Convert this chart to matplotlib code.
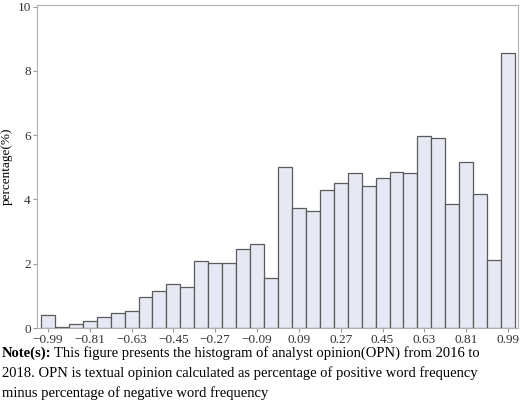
import matplotlib
matplotlib.use("Agg")
import matplotlib.pyplot as plt
import numpy as np

plt.rcParams['font.family'] = ['Liberation Serif', 'DejaVu Serif']

centers = [-0.99 + 0.06*i for i in range(34)]
values = [0.4, 0.02, 0.12, 0.23, 0.33, 0.46, 0.52, 0.95, 1.15, 1.36, 1.28, 2.07, 2.03, 2.02,
          2.45, 2.6, 1.56, 5.0, 3.72, 3.63, 4.3, 4.52, 4.82, 4.41, 4.66, 4.86, 4.82, 5.96,
          5.92, 3.85, 5.15, 4.17, 2.12, 8.56]
xticks = [-0.99, -0.81, -0.63, -0.45, -0.27, -0.09, 0.09, 0.27, 0.45, 0.63, 0.81, 0.99]
xticklabels = ['\u22120.99', '\u22120.81', '\u22120.63', '\u22120.45', '\u22120.27', '\u22120.09',
               '0.09', '0.27', '0.45', '0.63', '0.81', '0.99']
yticks = [0, 2, 4, 6, 8, 10]

fig = plt.figure(figsize=(5.2, 4.11), dpi=100)
ax = fig.add_axes([37/520, 1-328/411, 481/520, 323/411])
ax.bar(centers, values, width=0.06, color='#e6e9f4', edgecolor='#5a5a5a', linewidth=0.9)
ax.set_xlim(-1.037, 1.033)
ax.set_ylim(0, 10.05)
ax.set_xticks(xticks)
ax.set_xticklabels(xticklabels, fontsize=9.5)
ax.set_yticks(yticks)
ax.set_yticklabels([str(v) for v in yticks], fontsize=9.5)
ax.set_ylabel('percentage(%)', fontsize=9.5, labelpad=3)
for s in ax.spines.values():
    s.set_color('#b0b0b0')
ax.tick_params(colors='#333333', length=3, width=0.8, pad=1.5)
ax.tick_params(axis='both', color='#999999')

fs = 10.5
t0 = fig.text(2/520, 1-353/411, 'Note(s):', fontsize=fs, fontweight='bold', va='center', ha='left')
fig.canvas.draw()
bb = t0.get_window_extent()
fig.text((bb.x1 + 3)/520, 1-353/411, 'This figure presents the histogram of analyst opinion(OPN) from 2016 to',
         fontsize=fs, va='center', ha='left')
fig.text(2/520, 1-373/411, '2018. OPN is textual opinion calculated as percentage of positive word frequency',
         fontsize=fs, va='center', ha='left')
fig.text(2/520, 1-393/411, 'minus percentage of negative word frequency',
         fontsize=fs, va='center', ha='left')
fig.savefig('out.png', dpi=100)
